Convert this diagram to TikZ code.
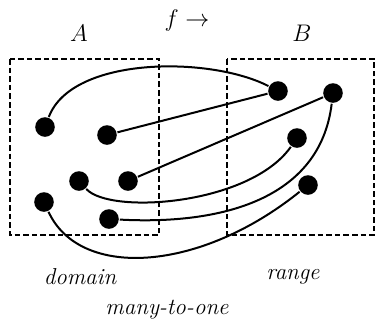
\documentclass[tikz,border=0pt]{standalone}
\begin{document}
\begin{tikzpicture}[x=0.5pt, y=-0.5pt, line width=1pt,
    elem/.style={circle, fill=black, inner sep=0pt, minimum size=9.8pt},
    setbox/.style={line width=0.75pt, dash pattern=on 2.8pt off 1.5pt},
    lbl/.style={font=\fontsize{11.5}{13}\selectfont\itshape}]
	\useasboundingbox (0,0) rectangle (376,323);
	% 1. the two sets
	\draw[setbox] (10,59) rectangle (159,235);
	\draw[setbox] (227,59) rectangle (374,235);

	% 2. elements of A and B
	\node[elem] (a1) at (45,127) {};
	\node[elem] (a2) at (107,135) {};
	\node[elem] (a3) at (79,181) {};
	\node[elem] (a4) at (128,181) {};
	\node[elem] (a5) at (44,202) {};
	\node[elem] (a6) at (109,219) {};
	\node[elem] (b1) at (278,91) {};
	\node[elem] (b2) at (333,93) {};
	\node[elem] (b3) at (297,138) {};
	\node[elem] (b4) at (308,185) {};

	% 3. the mapping
	\draw (a1) .. controls (72,56) and (210,56) .. (b1);
	\draw (a2) -- (b1);
	\draw (a4) -- (b2);
	\draw (a3) .. controls (110,215) and (250,205) .. (b3);
	\draw (a6) .. controls (220,225) and (320,200) .. (b2);
	\draw (a5) .. controls (80,280) and (200,272) .. (b4);

	% 4. labels
	\node[lbl] (setA) at (79,33) {$A$};
	\node[lbl] (setB) at (302,33) {$B$};
	\node[lbl] (fmap) at (187,20) {$f\rightarrow$};
	\node[lbl] (dom) at (80,277) {domain};
	\node[lbl] (ran) at (293,277) {range};
	\node[lbl] (kind) at (167,310) {many-to-one};
\end{tikzpicture}
\end{document}
